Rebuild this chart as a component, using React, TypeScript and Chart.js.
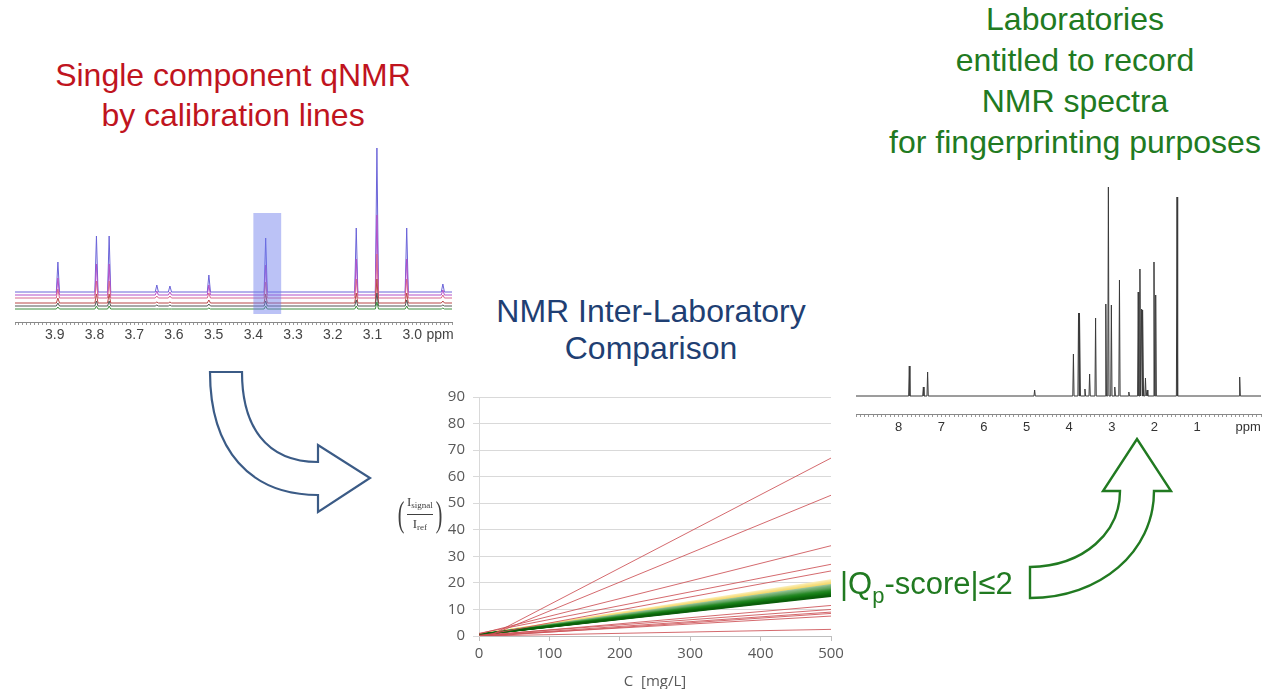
import React, { useEffect, useRef } from "react";
import { Chart, registerables } from "chart.js";
Chart.register(...registerables);

// ---------- Calibration-line chart data ----------
const concX = [0, 500];
const yAxisMax = 90;
const redStart = [-2, -1.5, 0.8, 1, 0, 0, 0.3, 0, -0.3, 0, 0];
const redEnd = [67, 53, 34, 27, 24.5, 11.5, 10, 9, 8.5, 7.5, 2.5];
const greenStart = [0.5, 0.5, 0.5, 0.5, 0.5, 0.5, 0.5, 0.5, 0.5, 0.5, 0.5, 0.5, 0.5, 0.5, 0.5, 0.5, 0.5, 0.5, 0.5];
const greenEnd = [15.0, 15.3, 15.5, 15.7, 15.9, 16.1, 16.3, 16.5, 16.7, 16.9, 17.1, 17.3, 17.5, 17.8, 18.1, 18.4, 18.7, 19.0, 19.3];
const yellowStart = [0.6, 0.6, 0.6, 0.6, 0.6];
const yellowEnd = [19.6, 20.0, 20.3, 20.7, 21.0];

// ---------- Left spectrum (3.9 - 3.0 ppm) ----------
const leftPeakPpm = [3.892, 3.795, 3.763, 3.643, 3.61, 3.512, 3.369, 3.141, 3.089, 3.014, 2.923];
const leftTraceBase = [30, 27, 24, 19, 16, 13];
const leftTraceHeights = [
  [30, 56, 56, 7, 6, 17, 54, 64, 144, 64, 8],
  [17, 31, 31, 4, 3, 10, 30, 36, 80, 36, 5],
  [9, 17, 17, 2, 2, 5, 16, 19, 44, 19, 3],
  [5, 9, 9, 1, 1, 3, 9, 10, 24, 10, 2],
  [3, 5, 5, 1, 1, 2, 5, 6, 13, 6, 1],
  [2, 3, 3, 0, 0, 1, 3, 3, 7, 3, 1],
];
const leftRange = [2.9, 4.0];
const highlightPpm = [3.40, 3.33];
const highlightY = [8, 109];

// ---------- Right spectrum (fingerprint) ----------
const rightPeakPpm = [7.75, 7.42, 7.32, 4.81, 3.90, 3.78, 3.75, 3.63, 3.52, 3.38, 3.14, 3.08, 3.01, 2.93, 2.82, 2.60, 2.38, 2.34, 2.30, 2.27, 2.21, 2.17, 2.01, 1.97, 1.47, 0.0];
const rightPeakHeight = [30, 9, 24, 6, 42, 83, 83, 7, 22, 78, 92, 209, 91, 9, 116, 4, 104, 127, 87, 86, 18, 6, 134, 101, 199, 19];
const rightBase = 18;
const rightRange = [-0.5, 9.0];

const LEFT_HALF_WIDTH = 0.004;
const RIGHT_HALF_WIDTH = 0.015;

const leftColors = ["#6a63d8", "#b24fc8", "#d8668e", "#b94848", "#555555", "#3f8f3f"];
const greenColors = ["#0b5e0b", "#0d650d", "#0f6b0f", "#117011", "#137513", "#157a15", "#187e18", "#1c821c", "#228622", "#2a8a2a", "#338f33", "#3d943d", "#489a48", "#54a054", "#61a761", "#6fae6f", "#7db57d", "#8cbd8c", "#9cc59c"];
const yellowColors = ["#f4d86c", "#f6dd7e", "#f7e28f", "#f9e79f", "#fbedb3"];

const SANS = '"Liberation Sans", Arial, sans-serif';

function spectrumPoints(ppm: number[], heights: number[], base: number, half: number, range: number[]) {
  const pts: { x: number; y: number }[] = [{ x: range[1], y: base }];
  const order = ppm.map((p, i) => i).sort((a, b) => ppm[b] - ppm[a]);
  for (const i of order) {
    pts.push({ x: ppm[i] + half, y: base });
    pts.push({ x: ppm[i], y: base + heights[i] });
    pts.push({ x: ppm[i] - half, y: base });
  }
  pts.push({ x: range[0], y: base });
  return pts;
}

function useChart(factory: (canvas: HTMLCanvasElement) => Chart) {
  const ref = useRef<HTMLCanvasElement | null>(null);
  useEffect(() => {
    if (!ref.current) return;
    const c = factory(ref.current);
    return () => c.destroy();
  }, []);
  return ref;
}

const commonPlugins = { legend: { display: false }, tooltip: { enabled: false } };

export default function App() {
  const mainRef = useChart((canvas) => {
    const datasets: any[] = [];
    redEnd.forEach((e, i) =>
      datasets.push({ data: [{ x: concX[0], y: redStart[i] }, { x: concX[1], y: e }], borderColor: "rgba(205,80,85,0.85)", borderWidth: 1 })
    );
    greenEnd.forEach((e, i) =>
      datasets.push({ data: [{ x: concX[0], y: greenStart[i] }, { x: concX[1], y: e }], borderColor: greenColors[i], borderWidth: 1.6 })
    );
    yellowEnd.forEach((e, i) =>
      datasets.push({ data: [{ x: concX[0], y: yellowStart[i] }, { x: concX[1], y: e }], borderColor: yellowColors[i], borderWidth: 1.8 })
    );
    return new Chart(canvas, {
      type: "line",
      data: { datasets },
      options: {
        animation: false,
        responsive: false,
        devicePixelRatio: 1,
        parsing: false as any,
        elements: { point: { radius: 0 }, line: { tension: 0 } },
        layout: { padding: { left: 0, right: 29, top: 13, bottom: 0 } },
        plugins: commonPlugins as any,
        scales: {
          x: {
            type: "linear",
            min: concX[0],
            max: concX[1],
            ticks: { stepSize: 100, color: "#595959", font: { family: '"Open Sans", sans-serif', size: 15 }, padding: 4, maxRotation: 0 },
            grid: { drawOnChartArea: false, drawTicks: true, tickLength: 5, color: "#bfbfbf" },
            border: { display: true, color: "#bfbfbf" },
            title: { display: true, text: "C  [mg/L]", color: "#595959", font: { family: '"Open Sans", sans-serif', size: 15 }, padding: { top: 0, bottom: 0 } },
            afterFit: (s: any) => { s.height = 55; },
          } as any,
          y: {
            type: "linear",
            min: 0,
            max: yAxisMax,
            ticks: { stepSize: 10, color: "#595959", font: { family: '"Open Sans", sans-serif', size: 15 }, padding: 8 },
            grid: { color: "#d9d9d9", tickLength: 6 },
            border: { display: true, color: "#d9d9d9" },
            afterFit: (s: any) => { s.width = 39; },
          } as any,
        },
      },
    });
  });

  const leftRef = useChart((canvas) => {
    const datasets = leftTraceHeights.map((h, t) => ({
      data: spectrumPoints(leftPeakPpm, h, leftTraceBase[t], LEFT_HALF_WIDTH, leftRange),
      borderColor: leftColors[t],
      borderWidth: 1,
    })).reverse();
    const highlight = {
      id: "hl",
      afterDatasetsDraw(chart: any) {
        const { ctx, scales } = chart;
        const x0 = scales.x.getPixelForValue(highlightPpm[0]);
        const x1 = scales.x.getPixelForValue(highlightPpm[1]);
        const y0 = scales.y.getPixelForValue(highlightY[1]);
        const y1 = scales.y.getPixelForValue(highlightY[0]);
        ctx.save();
        ctx.fillStyle = "rgba(105,120,235,0.45)";
        ctx.fillRect(x0, y0, x1 - x0, y1 - y0);
        ctx.restore();
      },
    };
    return new Chart(canvas, {
      type: "line",
      data: { datasets },
      plugins: [highlight],
      options: {
        animation: false,
        responsive: false,
        devicePixelRatio: 1,
        parsing: false as any,
        elements: { point: { radius: 0 }, line: { tension: 0 } },
        layout: { padding: { left: 15, right: 8, top: 7, bottom: 0 } },
        plugins: commonPlugins as any,
        scales: {
          x: {
            type: "linear",
            reverse: true,
            min: leftRange[0],
            max: leftRange[1],
            ticks: {
              stepSize: 0.01,
              autoSkip: false,
              maxRotation: 0,
              padding: 2,
              color: "#444",
              font: { family: SANS, size: 14 },
              callback: (v: any) => {
                const n = Math.round(Number(v) * 100);
                if (n === 293) return "ppm";
                if (n % 10 === 0 && n >= 300 && n <= 390) return (n / 100).toFixed(1);
                return "";
              },
            },
            grid: { drawOnChartArea: false, drawTicks: true, tickLength: 3, color: "#999" },
            border: { display: true, color: "#888" },
            afterFit: (s: any) => { s.height = 28; },
          } as any,
          y: { type: "linear", display: false, min: 0, max: 185 } as any,
        },
      },
    });
  });

  const rightRef = useChart((canvas) => {
    return new Chart(canvas, {
      type: "line",
      data: {
        datasets: [{
          data: spectrumPoints(rightPeakPpm, rightPeakHeight, rightBase, RIGHT_HALF_WIDTH, rightRange),
          borderColor: "#3a3a3a",
          borderWidth: 1,
        }],
      },
      options: {
        animation: false,
        responsive: false,
        devicePixelRatio: 1,
        parsing: false as any,
        elements: { point: { radius: 0 }, line: { tension: 0 } },
        layout: { padding: { left: 16, right: 2, top: 12, bottom: 0 } },
        plugins: commonPlugins as any,
        scales: {
          x: {
            type: "linear",
            reverse: true,
            min: rightRange[0],
            max: rightRange[1],
            ticks: {
              stepSize: 0.1,
              autoSkip: false,
              maxRotation: 0,
              padding: 3,
              color: "#333",
              font: { family: SANS, size: 13 },
              callback: (v: any) => {
                const n = Math.round(Number(v) * 10);
                if (n === -2) return "ppm";
                if (n % 10 === 0 && n >= 10 && n <= 80) return String(n / 10);
                return "";
              },
            },
            grid: { drawOnChartArea: false, drawTicks: true, tickLength: 3, color: "#999" },
            border: { display: true, color: "#888" },
            afterFit: (s: any) => { s.height = 36; },
          } as any,
          y: { type: "linear", display: false, min: 0, max: 232 } as any,
        },
      },
    });
  });

  const abs = (l: number, t: number, extra: any = {}) => ({ position: "absolute" as const, left: l, top: t, ...extra });

  return (
    <div style={{ position: "absolute", left: 0, top: 0, width: 1264, height: 689, overflow: "hidden", background: "#fff", fontFamily: SANS }}>
      {/* titles */}
      <div style={abs(33, 55, { width: 400, textAlign: "center", fontSize: 32, lineHeight: "40px", color: "#c0141e" })}>
        Single component qNMR<br />by calibration lines
      </div>
      <div style={abs(451, 293, { width: 400, textAlign: "center", fontSize: 32, lineHeight: "37px", color: "#1f3f73" })}>
        NMR Inter-Laboratory<br />Comparison
      </div>
      <div style={abs(875, -1, { width: 400, textAlign: "center", fontSize: 32, lineHeight: "41px", color: "#217a21" })}>
        Laboratories<br />entitled to record<br />NMR spectra<br />for fingerprinting purposes
      </div>

      <canvas ref={leftRef} width={460} height={220} style={abs(0, 130, { width: 460, height: 220 })} />
      <canvas ref={rightRef} width={424} height={280} style={abs(840, 170, { width: 424, height: 280 })} />
      <canvas ref={mainRef} width={420} height={311} style={abs(440, 380, { width: 420, height: 311 })} />

      {/* y axis label (I_signal / I_ref) */}
      <div style={abs(395, 496, { display: "flex", alignItems: "center", fontFamily: '"Liberation Serif", serif', color: "#404040", height: 36 })}>
        <span style={{ fontSize: 36, lineHeight: "36px", display: "inline-block", transform: "scaleX(0.55)" }}>(</span>
        <div style={{ display: "flex", flexDirection: "column", alignItems: "center", fontSize: 13, lineHeight: "15px" }}>
          <span>I<span style={{ fontSize: 9, verticalAlign: "-2px" }}>signal</span></span>
          <div style={{ height: 1, background: "#404040", alignSelf: "stretch", margin: "1px 0" }} />
          <span>I<span style={{ fontSize: 9, verticalAlign: "-2px" }}>ref</span></span>
        </div>
        <span style={{ fontSize: 36, lineHeight: "36px", display: "inline-block", transform: "scaleX(0.55)" }}>)</span>
      </div>

      {/* Qp-score label */}
      <div style={abs(840, 568, { fontSize: 31, lineHeight: "31px", color: "#217a21", whiteSpace: "nowrap" })}>
        |Q<span style={{ fontSize: 22, verticalAlign: "-9px" }}>p</span>-score|≤2
      </div>

      {/* arrows */}
      <svg width={1264} height={689} style={abs(0, 0, { pointerEvents: "none" })}>
        <path d="M210,372 L242,372 C242,425 265,462 318,462 L318,445 L370,478 L318,512 L318,495 C250,495 210,450 210,372 Z"
          fill="#fff" stroke="#3b5b86" strokeWidth={2.2} strokeLinejoin="miter" />
        <path d="M1030,567 C1085,566 1120,532 1120,491 L1103,491 L1137,439 L1171,491 L1154,491 C1154,552 1100,598 1030,598 Z"
          fill="#fff" stroke="#217a21" strokeWidth={2.4} strokeLinejoin="miter" />
      </svg>
    </div>
  );
}
